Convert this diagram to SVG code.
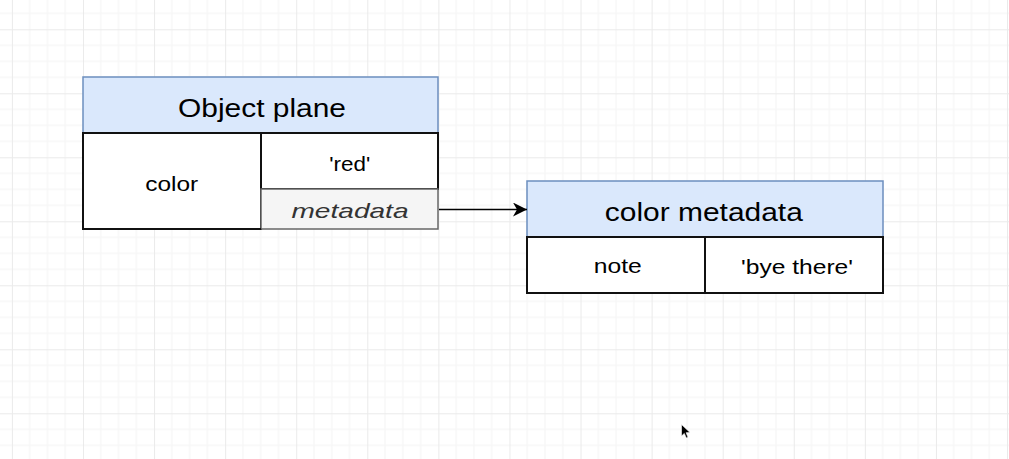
<svg xmlns="http://www.w3.org/2000/svg" width="1009" height="459" viewBox="0 0 1009 459">
  <defs>
    <pattern id="grid" patternUnits="userSpaceOnUse" x="11.9" y="29.3" width="71.08" height="64">
      <g stroke="#f4f4f4" stroke-width="1" fill="none">
        <line x1="17.77" y1="0" x2="17.77" y2="64"/>
        <line x1="35.54" y1="0" x2="35.54" y2="64"/>
        <line x1="53.31" y1="0" x2="53.31" y2="64"/>
        <line x1="0" y1="16" x2="71.08" y2="16"/>
        <line x1="0" y1="32" x2="71.08" y2="32"/>
        <line x1="0" y1="48" x2="71.08" y2="48"/>
      </g>
      <g stroke="#eaeaea" stroke-width="1" fill="none">
        <line x1="0.5" y1="0" x2="0.5" y2="64"/>
        <line x1="0" y1="0.5" x2="71.08" y2="0.5"/>
      </g>
    </pattern>
    <marker id="arrow" markerUnits="userSpaceOnUse" markerWidth="16" markerHeight="14" refX="14" refY="7" orient="auto">
      <path d="M0,0 L14,7 L0,14 L4,7 Z" fill="#000"/>
    </marker>
    <style>
      .hdr { fill: #dae8fc; stroke: #6c8ebf; stroke-width: 1.5; }
      .cell { fill: #ffffff; stroke: #111111; stroke-width: 2; }
      .meta { fill: #f5f5f5; stroke: #666666; stroke-width: 1.5; }
      .t { font-family: "Liberation Sans", Arial, Helvetica, sans-serif; fill: #000; text-anchor: middle; }
      .h { font-size: 26.5px; }
      .c { font-size: 21px; }
      .it { font-style: italic; fill: #333333; }
      .edge { stroke: #000; stroke-width: 1.5; fill: none; }
    </style>
  </defs>

  <rect x="0" y="0" width="1009" height="459" fill="#ffffff"/>
  <rect x="0" y="0" width="1009" height="459" fill="url(#grid)"/>

  <g id="node-object-plane">
    <rect class="hdr" x="83" y="77" width="355" height="56"/>
    <rect class="cell" x="83" y="133" width="178" height="96"/>
    <rect class="cell" x="261" y="133" width="177" height="56"/>
    <rect class="meta" x="261" y="189" width="177" height="40"/>
    <line x1="83" y1="229" x2="261" y2="229" stroke="#111" stroke-width="2"/>
    <text class="t h" x="262" y="116.7" textLength="168" lengthAdjust="spacingAndGlyphs">Object plane</text>
    <text class="t c" x="171.7" y="190.7" textLength="53" lengthAdjust="spacingAndGlyphs">color</text>
    <text class="t c" x="349.7" y="171" textLength="41" lengthAdjust="spacingAndGlyphs">'red'</text>
    <text class="t c it" x="350" y="217.7" textLength="117" lengthAdjust="spacingAndGlyphs">metadata</text>
  </g>

  <g id="node-color-metadata">
    <rect class="hdr" x="527" y="181" width="356" height="56"/>
    <rect class="cell" x="527" y="237" width="178" height="56"/>
    <rect class="cell" x="705" y="237" width="178" height="56"/>
    <text class="t" x="703.8" y="220.7" style="font-size:25px" textLength="198" lengthAdjust="spacingAndGlyphs">color metadata</text>
    <text class="t c" x="617.8" y="273.3" textLength="48" lengthAdjust="spacingAndGlyphs">note</text>
    <text class="t c" x="797" y="274" textLength="112" lengthAdjust="spacingAndGlyphs">'bye there'</text>
  </g>

  <g id="connectors">
    <line class="edge" x1="439" y1="209.5" x2="527" y2="209.5" marker-end="url(#arrow)"/>
  </g>

  <g id="cursor">
    <path d="M681.5,424.5 L681.5,436 L684.3,433.4 L686.3,438 L688,437.2 L686.1,432.7 L690,432.5 Z" fill="#000" stroke="#fff" stroke-width="0.6"/>
  </g>
</svg>
